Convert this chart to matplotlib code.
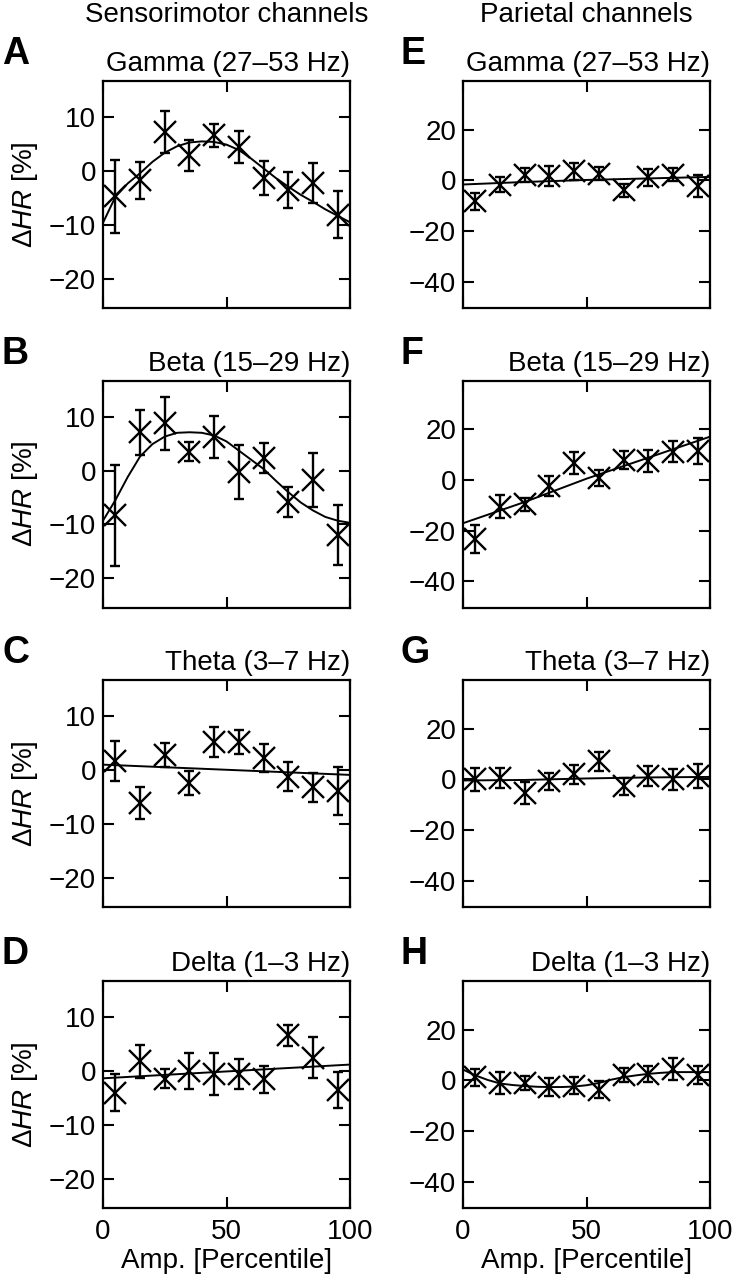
import numpy as np
import matplotlib
matplotlib.use("Agg")
import matplotlib.pyplot as plt

plt.rcParams['font.family'] = ['Liberation Sans', 'DejaVu Sans']
plt.rcParams['mathtext.fontset'] = 'custom'
plt.rcParams['mathtext.it'] = 'Liberation Sans:italic'
plt.rcParams['mathtext.rm'] = 'Liberation Sans'

# ---------------- data ----------------
percentiles = [5, 15, 25, 35, 45, 55, 65, 75, 85, 95]

# Sensorimotor channels
gamma_s = [-4.7, -1.7, 7.2, 2.9, 6.6, 4.5, -1.3, -3.5, -2.3, -8.1]
gamma_s_err = [6.7, 3.4, 3.9, 2.9, 2.1, 3.0, 3.1, 3.4, 3.7, 4.4]
beta_s = [-8.3, 7.1, 8.8, 3.5, 6.2, -0.2, 2.3, -5.9, -1.7, -12.0]
beta_s_err = [9.4, 4.2, 4.9, 1.8, 3.9, 5.0, 2.8, 2.8, 5.0, 5.6]
theta_s = [1.6, -6.1, 2.8, -2.4, 5.2, 5.2, 2.3, -1.2, -3.2, -3.9]
theta_s_err = [3.7, 3.0, 2.3, 2.3, 2.7, 2.3, 2.6, 2.6, 2.7, 4.4]
delta_s = [-4.0, 1.8, -1.4, 0.0, -0.6, -0.6, -1.5, 6.6, 2.5, -3.5]
delta_s_err = [3.5, 3.1, 1.8, 3.3, 3.9, 2.8, 2.5, 2.0, 3.8, 3.3]

# Parietal channels
gamma_p = [-8.3, -1.6, 2.0, 1.7, 3.6, 2.6, -3.9, 1.3, 2.2, -2.2]
gamma_p_err = [3.5, 3.0, 2.8, 3.9, 3.4, 2.6, 2.6, 3.4, 2.6, 4.3]
beta_p = [-23.4, -10.5, -9.6, -2.4, 6.8, 0.9, 7.9, 7.5, 11.2, 11.4]
beta_p_err = [5.6, 4.6, 2.6, 3.9, 4.3, 3.1, 3.4, 4.3, 4.0, 5.1]
theta_p = [0.0, 0.7, -5.3, -0.7, 2.0, 7.1, -2.7, 1.3, 0.0, 1.3]
theta_p_err = [4.4, 3.9, 4.3, 3.3, 3.8, 3.7, 3.3, 4.0, 4.0, 4.7]
delta_p = [1.3, -0.9, -0.9, -2.6, -2.0, -3.7, 2.0, 2.6, 4.6, 2.2]
delta_p_err = [3.3, 4.3, 2.8, 3.5, 3.3, 3.3, 2.8, 3.3, 4.4, 3.6]

# Fitted curves
fit_x21 = [0, 5, 10, 15, 20, 25, 30, 35, 40, 45, 50, 55, 60, 65, 70, 75, 80, 85, 90, 95, 100]
fit_gamma_s = [-9.6, -4.8, -2.3, -0.4, 1.7, 3.4, 4.6, 5.3, 5.5, 5.4, 4.9, 3.9, 2.3, 0.5, -1.3, -2.9, -4.4, -5.7, -7.1, -8.3, -9.5]
fit_beta_s = [-9.3, -5.5, -1.2, 2.6, 4.9, 6.3, 7.0, 7.1, 7.0, 6.5, 5.4, 3.7, 2.0, 0.3, -1.9, -4.0, -5.9, -7.4, -8.6, -9.3, -9.7]
fit_delta_p = [4.3, 2.0, 0.2, -1.2, -1.8, -2.2, -2.5, -2.6, -2.6, -2.4, -1.9, -1.0, 0.3, 1.3, 2.0, 2.6, 3.0, 3.3, 3.3, 3.3, 3.3]
fit_x2 = [0, 100]
fit_theta_s = [1.0, -0.9]
fit_delta_s = [-1.35, 1.2]
fit_x5 = [0, 25, 50, 75, 100]
fit_gamma_p = [-1.6, -0.6, 0.2, 0.8, 1.4]
fit_beta_p = [-17.1, -8.7, 0.5, 8.8, 17.1]
fit_theta_p = [-0.4, -0.2, 0.4, 0.8, 1.0]

titles = ["Gamma (27–53 Hz)", "Beta (15–29 Hz)", "Theta (3–7 Hz)", "Delta (1–3 Hz)"]
letters_left = ["A", "B", "C", "D"]
letters_right = ["E", "F", "G", "H"]
col_headers = ["Sensorimotor channels", "Parietal channels"]
left_yticks = [-20, -10, 0, 10]
right_yticks = [-40, -20, 0, 20]
xticks = [0, 50, 100]

left_panels = [
    (gamma_s, gamma_s_err, fit_x21, fit_gamma_s),
    (beta_s, beta_s_err, fit_x21, fit_beta_s),
    (theta_s, theta_s_err, fit_x2, fit_theta_s),
    (delta_s, delta_s_err, fit_x2, fit_delta_s),
]
right_panels = [
    (gamma_p, gamma_p_err, fit_x5, fit_gamma_p),
    (beta_p, beta_p_err, fit_x5, fit_beta_p),
    (theta_p, theta_p_err, fit_x5, fit_theta_p),
    (delta_p, delta_p_err, fit_x21, fit_delta_p),
]

# ---------------- figure ----------------
W, H = 732, 1280
fig = plt.figure(figsize=(W / 100, H / 100), dpi=100)

FS = 20
ax_w = 247 / W
ax_h = 227 / H
left_x = 103 / W
right_x = 463 / W
tops_px = [81, 380.5, 680, 981]


def style_axes(ax, ylim, yticks, show_xlabels):
    ax.set_xlim(0, 100)
    ax.set_ylim(*ylim)
    ax.set_xticks(xticks)
    ax.set_yticks(yticks)
    ax.tick_params(direction='in', length=8, width=1.5, top=True, right=True,
                   labelsize=FS, pad=5)
    ax.tick_params(axis='x', pad=8)
    if not show_xlabels:
        ax.set_xticklabels([])
    for s in ax.spines.values():
        s.set_linewidth(1.6)


def draw(ax, y, err, fx, fy):
    ax.errorbar(percentiles, y, yerr=err, fmt='none', ecolor='black',
                elinewidth=1.7, capsize=3.5, capthick=1.7)
    ax.plot(percentiles, y, linestyle='none', marker='x', markersize=16,
            markeredgewidth=1.7, color='black')
    ax.plot(fx, fy, color='black', linewidth=1.4)


for i in range(4):
    bottom = 1 - (tops_px[i] + 227) / H
    last = (i == 3)

    axl = fig.add_axes([left_x, bottom, ax_w, ax_h])
    y, e, fx, fy = left_panels[i]
    draw(axl, y, e, fx, fy)
    style_axes(axl, (-25.4, 16.7), left_yticks, last)
    axl.set_title(titles[i], loc='right', fontsize=FS, pad=7)
    axl.set_ylabel(r'$\mathit{ΔHR}$ [%]', fontsize=FS)
    axl.yaxis.set_label_coords(-0.255, 0.5)
    fig.text(2 / W, 1 - (tops_px[i] - 27) / H, letters_left[i], fontsize=27,
             fontweight='bold', va='center', ha='left')

    axr = fig.add_axes([right_x, bottom, ax_w, ax_h])
    y, e, fx, fy = right_panels[i]
    draw(axr, y, e, fx, fy)
    style_axes(axr, (-50.4, 39.3), right_yticks, last)
    axr.set_title(titles[i], loc='right', fontsize=FS, pad=7)
    fig.text(400 / W, 1 - (tops_px[i] - 27) / H, letters_right[i], fontsize=27,
             fontweight='bold', va='center', ha='left')

    if last:
        axl.set_xlabel('Amp. [Percentile]', fontsize=FS, labelpad=2)
        axr.set_xlabel('Amp. [Percentile]', fontsize=FS, labelpad=2)

fig.text((103 + 123.5) / W, 1 - 15 / H, col_headers[0], fontsize=FS,
         ha='center', va='center')
fig.text((463 + 123.5) / W, 1 - 15 / H, col_headers[1], fontsize=FS,
         ha='center', va='center')

fig.savefig('out.png', dpi=100)
